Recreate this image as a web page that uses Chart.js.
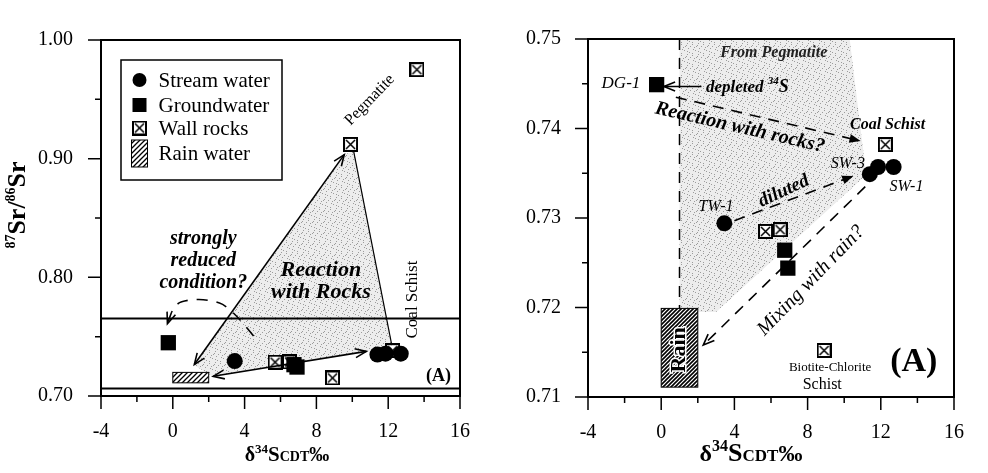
<!DOCTYPE html>
<html lang="en">
<head>
  <meta charset="UTF-8" />
  <title>87Sr/86Sr vs d34S</title>
  <script src="https://cdn.jsdelivr.net/npm/chart.js"></script>
  <style>
    html, body { margin: 0; padding: 0; background: #fff; }
    body { width: 988px; height: 473px; overflow: hidden; position: relative; }
    .panel { position: absolute; top: 0; width: 494px; height: 473px; }
    #left { left: 0; }
    #right { left: 494px; }
  </style>
</head>
<body>

  <div class="panel" id="left"><canvas id="graphLeft" width="494" height="473"></canvas></div>
  <div class="panel" id="right"><canvas id="graphRight" width="494" height="473"></canvas></div>

  <script>
    // data
    const streamX = [3.45, 11.4, 11.85, 12.7];
    const streamY = [0.7294, 0.7349, 0.7357, 0.7357];
    const groundX = [-0.25, 6.75, 6.92];
    const groundY = [0.7449, 0.7264, 0.7244];
    const rockX = [5.7, 6.5, 12.25, 8.9, 9.9, 13.6];
    const rockY = [0.7285, 0.7287, 0.7382, 0.7152, 0.912, 0.975];
    const rainX = [0, 2];
    const rainY = [0.7111, 0.7199];

    const xMajor = [-4, 0, 4, 8, 12, 16];
    const xMinor = [-2, 2, 6, 10, 14];
    const yMajorLeft = [0.70, 0.80, 0.90, 1.00];
    const yMinorLeft = [0.75, 0.85, 0.95];
    const yMajorRight = [0.71, 0.72, 0.73, 0.74, 0.75];
    const yMinorRight = [0.715, 0.725, 0.735, 0.745];
    const legendLabels = ['Stream water', 'Groundwater', 'Wall rocks', 'Rain water'];

    const SERIF = "'Liberation Serif', 'Times New Roman', serif";

    // annotations (data units)
    const leftShade = [[1.2, 0.726], [9.6, 0.904], [10.1, 0.906], [12.2, 0.743], [10.8, 0.7376], [2.2, 0.7166]];
    const leftBand = [0.7063, 0.7653];
    const leftArrows = [
      { a: [1.2, 0.7265], b: [9.55, 0.9034], both: true },
      { a: [2.25, 0.7166], b: [10.78, 0.7376], both: true },
      { a: [10.08, 0.906], b: [12.2, 0.7429], plain: true }
    ];
    const leftCurve = [[4.5, 0.7505], [3.2, 0.7755], [2.0, 0.7813], [0.9, 0.7813], [0.1, 0.7775], [-0.3, 0.761]];
    const leftTexts = [
      { t: 'strongly', x: 1.7, y: 0.8326, f: 'italic bold 20px' },
      { t: 'reduced', x: 1.7, y: 0.8137, f: 'italic bold 20px' },
      { t: 'condition?', x: 1.7, y: 0.7955, f: 'italic bold 20px' },
      { t: 'Reaction', x: 8.25, y: 0.8058, f: 'italic bold 22px' },
      { t: 'with Rocks', x: 8.25, y: 0.7876, f: 'italic bold 22px' },
      { t: 'Pegmatite', x: 10.97, y: 0.9494, f: '16px', r: -46 },
      { t: 'Coal Schist', x: 13.33, y: 0.7813, f: '17px', r: -90 },
      { t: '(A)', x: 14.8, y: 0.7166, f: 'bold 18px' }
    ];

    const rightShade = [[1, 0.75], [10.3, 0.75], [11.2, 0.7348], [3.0, 0.7195], [1, 0.7195]];
    const rightDashV = [[1, 0.75], [1, 0.7199]];
    const rightArrows = [
      { a: [2.2, 0.7447], b: [0.15, 0.7447] },
      { a: [0.8, 0.7435], b: [10.9, 0.7386], dash: true, head: 'filled' },
      { a: [4.0, 0.7297], b: [10.5, 0.7347], dash: true, head: 'filled' },
      { a: [11.15, 0.7335], b: [2.3, 0.7158], dash: true }
    ];
    const rightTexts = [
      { t: 'From Pegmatite', x: 6.15, y: 0.7484, f: 'italic bold 16px', c: '#222' },
      { t: 'DG-1', x: -2.2, y: 0.745, f: 'italic 17px' },
      { t: 'Reaction with rocks?', x: 4.3, y: 0.7401, f: 'italic bold 20px', r: 13 },
      { t: 'Coal Schist', x: 12.37, y: 0.7404, f: 'italic bold 16px' },
      { t: 'SW-3', x: 10.2, y: 0.7361, f: 'italic 16px' },
      { t: 'SW-1', x: 13.4, y: 0.7335, f: 'italic 16px' },
      { t: 'TW-1', x: 3.0, y: 0.7312, f: 'italic 16px' },
      { t: 'diluted', x: 6.7, y: 0.733, f: 'italic bold 19px', r: -25 },
      { t: 'Mixing with rain?', x: 8.18, y: 0.723, f: 'italic 20px', r: -46 },
      { t: 'Biotite-Chlorite', x: 9.23, y: 0.71326, f: '13px' },
      { t: 'Schist', x: 8.8, y: 0.71134, f: '16px' },
      { t: '(A)', x: 13.8, y: 0.7139, f: 'bold 34px' }
    ];

    function crossBox(size) {
      const c = document.createElement('canvas');
      c.width = size; c.height = size;
      const g = c.getContext('2d');
      g.fillStyle = '#fff'; g.fillRect(0, 0, size, size);
      g.strokeStyle = '#000'; g.lineWidth = 2;
      g.strokeRect(1, 1, size - 2, size - 2);
      g.lineWidth = 1.5;
      g.beginPath();
      g.moveTo(3, 3); g.lineTo(size - 3, size - 3);
      g.moveTo(size - 3, 3); g.lineTo(3, size - 3);
      g.stroke();
      return c;
    }

    function hatch(ctx, step, lw) {
      const c = document.createElement('canvas');
      c.width = step; c.height = step;
      const g = c.getContext('2d');
      g.fillStyle = '#fff'; g.fillRect(0, 0, step, step);
      g.strokeStyle = '#000'; g.lineWidth = lw;
      g.beginPath();
      g.moveTo(0, step); g.lineTo(step, 0);
      g.moveTo(-1, 1); g.lineTo(1, -1);
      g.moveTo(step - 1, step + 1); g.lineTo(step + 1, step - 1);
      g.stroke();
      return ctx.createPattern(c, 'repeat');
    }

    // light speckled grey, like the printed screen
    const speckle = [[0, 0], [5, 1], [2, 3], [7, 4], [3, 6], [6, 7], [1, 5], [4, 2], [8, 8], [0, 9], [9, 2], [6, 10]];
    function stipple(ctx) {
      const c = document.createElement('canvas');
      c.width = 11; c.height = 11;
      const g = c.getContext('2d');
      g.fillStyle = '#ededed'; g.fillRect(0, 0, 11, 11);
      g.fillStyle = '#9c9c9c';
      speckle.forEach(p => g.fillRect(p[0], p[1], 1, 1));
      return ctx.createPattern(c, 'repeat');
    }

    function head(ctx, x1, y1, x2, y2, kind) {
      const a = Math.atan2(y2 - y1, x2 - x1), L = 12, w = 0.38;
      const p1 = [x2 - L * Math.cos(a - w), y2 - L * Math.sin(a - w)];
      const p2 = [x2 - L * Math.cos(a + w), y2 - L * Math.sin(a + w)];
      ctx.beginPath();
      ctx.moveTo(p1[0], p1[1]); ctx.lineTo(x2, y2); ctx.lineTo(p2[0], p2[1]);
      if (kind === 'filled') { ctx.closePath(); ctx.fill(); } else { ctx.stroke(); }
    }

    function arrow(ctx, p, q, o) {
      ctx.save();
      ctx.lineWidth = o.plain ? 1.2 : 1.6;
      ctx.setLineDash(o.dash ? [11, 8] : []);
      ctx.beginPath(); ctx.moveTo(p[0], p[1]); ctx.lineTo(q[0], q[1]); ctx.stroke();
      ctx.setLineDash([]);
      if (!o.plain) {
        head(ctx, p[0], p[1], q[0], q[1], o.head);
        if (o.both) head(ctx, q[0], q[1], p[0], p[1], o.head);
      }
      ctx.restore();
    }

    function text(ctx, t, x, y, font, rot, color) {
      ctx.save();
      ctx.translate(x, y);
      ctx.rotate((rot || 0) * Math.PI / 180);
      ctx.font = font + ' ' + SERIF;
      ctx.fillStyle = color || '#000';
      ctx.textAlign = 'center';
      ctx.textBaseline = 'middle';
      ctx.fillText(t, 0, 0);
      ctx.restore();
    }

    // mixed-size text, centred on cx, baseline at by (or left-aligned if left is set)
    function rich(ctx, parts, cx, by, rot, left) {
      ctx.save();
      ctx.translate(cx, by);
      ctx.rotate(rot || 0);
      let w = 0;
      parts.forEach(p => { ctx.font = p.f + ' ' + SERIF; w += ctx.measureText(p.t).width; });
      let x = left ? 0 : -w / 2;
      ctx.textAlign = 'left';
      ctx.textBaseline = 'alphabetic';
      ctx.fillStyle = '#000';
      parts.forEach(p => {
        ctx.font = p.f + ' ' + SERIF;
        ctx.fillText(p.t, x, p.dy || 0);
        x += ctx.measureText(p.t).width;
      });
      ctx.restore();
    }

    function xTitle(k) {
      return [
        { t: 'δ', f: 'bold ' + Math.round(20 * k) + 'px' },
        { t: '34', f: 'bold ' + Math.round(13 * k) + 'px', dy: -8 * k },
        { t: 'S', f: 'bold ' + Math.round(21 * k) + 'px' },
        { t: 'CDT', f: 'bold ' + Math.round(14 * k) + 'px' },
        { t: '‰', f: 'bold ' + Math.round(20 * k) + 'px' }
      ];
    }

    function decor(spec) {
      return {
        id: 'decor',
        beforeDatasetsDraw(chart) {
          const { ctx, chartArea: ca, scales: { x, y } } = chart;
          const px = p => [x.getPixelForValue(p[0]), y.getPixelForValue(p[1])];
          ctx.save();
          ctx.beginPath();
          ctx.rect(ca.left, ca.top, ca.right - ca.left, ca.bottom - ca.top);
          ctx.clip();
          ctx.fillStyle = stipple(ctx);
          ctx.beginPath();
          spec.shade.forEach((p, i) => { const q = px(p); i ? ctx.lineTo(q[0], q[1]) : ctx.moveTo(q[0], q[1]); });
          ctx.closePath();
          ctx.fill();

          ctx.strokeStyle = '#000';
          if (spec.band) {
            ctx.lineWidth = 2;
            spec.band.forEach(v => {
              const py = y.getPixelForValue(v);
              ctx.beginPath(); ctx.moveTo(ca.left, py); ctx.lineTo(ca.right, py); ctx.stroke();
            });
          }
          if (spec.dashV) {
            const a = px(spec.dashV[0]), b = px(spec.dashV[1]);
            ctx.lineWidth = 1.5;
            ctx.setLineDash([11, 8]);
            ctx.beginPath(); ctx.moveTo(a[0], a[1]); ctx.lineTo(b[0], b[1]); ctx.stroke();
            ctx.setLineDash([]);
          }
          // rain water box
          const r0 = px([rainX[0], rainY[1]]), r1 = px([rainX[1], rainY[0]]);
          ctx.fillStyle = hatch(ctx, spec.hatchStep, spec.hatchLw);
          ctx.fillRect(r0[0], r0[1], r1[0] - r0[0], r1[1] - r0[1]);
          ctx.lineWidth = 1;
          ctx.strokeRect(r0[0], r0[1], r1[0] - r0[0], r1[1] - r0[1]);
          if (spec.rainText) {
            ctx.save();
            ctx.translate((r0[0] + r1[0]) / 2, (r0[1] + r1[1]) / 2 + 2);
            ctx.rotate(-Math.PI / 2);
            ctx.font = 'bold 22px ' + SERIF;
            ctx.textAlign = 'center'; ctx.textBaseline = 'middle';
            ctx.lineWidth = 3; ctx.strokeStyle = '#fff';
            ctx.strokeText('Rain', 0, 0);
            ctx.fillStyle = '#000';
            ctx.fillText('Rain', 0, 0);
            ctx.restore();
          }
          ctx.restore();
        },
        afterDatasetsDraw(chart) {
          const { ctx, chartArea: ca, scales: { x, y } } = chart;
          const px = p => [x.getPixelForValue(p[0]), y.getPixelForValue(p[1])];
          ctx.save();
          ctx.strokeStyle = '#000';
          ctx.fillStyle = '#000';

          spec.arrows.forEach(o => arrow(ctx, px(o.a), px(o.b), o));

          if (spec.curve) {
            const pts = spec.curve.map(px);
            ctx.save();
            ctx.lineWidth = 1.6;
            ctx.setLineDash([11, 9]);
            ctx.beginPath();
            ctx.moveTo(pts[0][0], pts[0][1]);
            for (let i = 1; i < pts.length - 1; i++) {
              const mx = (pts[i][0] + pts[i + 1][0]) / 2, my = (pts[i][1] + pts[i + 1][1]) / 2;
              ctx.quadraticCurveTo(pts[i][0], pts[i][1], mx, my);
            }
            const l = pts[pts.length - 1], pl = pts[pts.length - 2];
            ctx.lineTo(l[0], l[1]);
            ctx.stroke();
            ctx.setLineDash([]);
            head(ctx, pl[0], pl[1], l[0], l[1]);
            ctx.restore();
          }

          spec.texts.forEach(o => {
            const q = px([o.x, o.y]);
            text(ctx, o.t, q[0], q[1], o.f, o.r, o.c);
          });

          if (spec.depleted) {
            const q = px(spec.depleted);
            rich(ctx, [
              { t: 'depleted ', f: 'italic bold 17px' },
              { t: '34', f: 'italic bold 11px', dy: -8 },
              { t: 'S', f: 'italic bold 18px' }
            ], q[0], q[1] + 6, 0, true);
          }

          // frame
          ctx.lineWidth = 2;
          ctx.strokeRect(ca.left, ca.top, ca.right - ca.left, ca.bottom - ca.top);

          // ticks outside the frame
          ctx.lineWidth = 1.5;
          ctx.beginPath();
          xMajor.forEach(v => { const p = x.getPixelForValue(v); ctx.moveTo(p, ca.bottom); ctx.lineTo(p, ca.bottom + 13); });
          xMinor.forEach(v => { const p = x.getPixelForValue(v); ctx.moveTo(p, ca.bottom); ctx.lineTo(p, ca.bottom + 6); });
          spec.yMajor.forEach(v => { const p = y.getPixelForValue(v); ctx.moveTo(ca.left - 13, p); ctx.lineTo(ca.left, p); });
          spec.yMinor.forEach(v => { const p = y.getPixelForValue(v); ctx.moveTo(ca.left - 6, p); ctx.lineTo(ca.left, p); });
          ctx.stroke();

          // axis titles
          rich(ctx, xTitle(spec.titleK), spec.titleX, 461);
          if (spec.yTitle) {
            rich(ctx, [
              { t: '87', f: 'bold 14px', dy: -10 },
              { t: 'Sr/', f: 'bold 26px' },
              { t: '86', f: 'bold 14px', dy: -10 },
              { t: 'Sr', f: 'bold 26px' }
            ], 25, 205, -Math.PI / 2);
          }

          // legend
          if (spec.legend) {
            const bx = ca.left + 20, by = ca.top + 20, bw = 161, bh = 120;
            ctx.fillStyle = '#fff';
            ctx.fillRect(bx, by, bw, bh);
            ctx.lineWidth = 1.5;
            ctx.strokeRect(bx, by, bw, bh);
            const rows = [20, 45, 68, 93];
            const sx = bx + 18.5;
            ctx.fillStyle = '#000';
            ctx.beginPath(); ctx.arc(sx, by + rows[0], 7, 0, Math.PI * 2); ctx.fill();
            ctx.fillRect(sx - 7, by + rows[1] - 7, 14, 14);
            const cb = crossBox(15);
            ctx.drawImage(cb, sx - 7.5, by + rows[2] - 7.5);
            ctx.fillStyle = hatch(ctx, 5, 1.3);
            ctx.fillRect(sx - 8, by + rows[3] - 13, 16, 27);
            ctx.lineWidth = 1;
            ctx.strokeRect(sx - 8, by + rows[3] - 13, 16, 27);
            ctx.fillStyle = '#000';
            ctx.font = '21px ' + SERIF;
            ctx.textAlign = 'left';
            ctx.textBaseline = 'middle';
            legendLabels.forEach((t, i) => ctx.fillText(t, bx + 37.5, by + rows[i] + 1));
          }
          ctx.restore();
        }
      };
    }

    function makeChart(canvasId, opt, spec) {
      const crossImg = crossBox(15);
      const toPts = (xs, ys) => xs.map((v, i) => ({ x: v, y: ys[i] }));
      return new Chart(document.getElementById(canvasId), {
        type: 'scatter',
        data: {
          datasets: [
            { label: legendLabels[0], data: toPts(streamX, streamY), pointStyle: 'circle', pointRadius: 8, backgroundColor: '#000', borderColor: '#000', borderWidth: 0, order: 0 },
            { label: legendLabels[1], data: toPts(groundX, groundY), pointStyle: 'rect', pointRadius: 10.8, backgroundColor: '#000', borderColor: '#000', borderWidth: 0, order: 1 },
            { label: legendLabels[2], data: toPts(rockX, rockY), pointStyle: crossImg, order: 2 }
          ]
        },
        options: {
          responsive: false,
          animation: false,
          events: [],
          layout: { padding: opt.padding },
          plugins: { legend: { display: false }, tooltip: { enabled: false } },
          scales: {
            x: {
              type: 'linear', min: -4, max: 16,
              afterBuildTicks: s => { s.ticks = xMajor.map(v => ({ value: v })); },
              afterFit: s => { s.height = opt.xHeight; },
              ticks: { color: '#000', font: { family: SERIF, size: 20 }, padding: 24, maxRotation: 0, autoSkip: false },
              grid: { display: false, drawTicks: false },
              border: { display: false }
            },
            y: {
              type: 'linear', min: opt.yMin, max: opt.yMax,
              afterBuildTicks: s => { s.ticks = spec.yMajor.map(v => ({ value: v })); },
              afterFit: s => { s.width = opt.yWidth; },
              ticks: { color: '#000', font: { family: SERIF, size: 20 }, padding: opt.yPad, autoSkip: false, callback: v => v.toFixed(2) },
              grid: { display: false, drawTicks: false },
              border: { display: false }
            }
          }
        },
        plugins: [decor(spec)]
      });
    }

    makeChart('graphLeft',
      { padding: { top: 15, right: 11, left: 0, bottom: 0 }, xHeight: 77, yWidth: 101, yPad: 28, yMin: 0.70, yMax: 1.00 },
      { shade: leftShade, band: leftBand, arrows: leftArrows, curve: leftCurve, texts: leftTexts,
        yMajor: yMajorLeft, yMinor: yMinorLeft, hatchStep: 5, hatchLw: 1.3, legend: true, yTitle: true,
        titleX: 287, titleK: 1 });

    makeChart('graphRight',
      { padding: { top: 17, right: 18, left: 0, bottom: 0 }, xHeight: 76, yWidth: 94, yPad: 27, yMin: 0.71, yMax: 0.75 },
      { shade: rightShade, dashV: rightDashV, arrows: rightArrows, texts: rightTexts, depleted: [2.45, 0.7447],
        yMajor: yMajorRight, yMinor: yMinorRight, hatchStep: 4, hatchLw: 1.6, rainText: true,
        titleX: 257, titleK: 1.22 });
  </script>

</body>
</html>
